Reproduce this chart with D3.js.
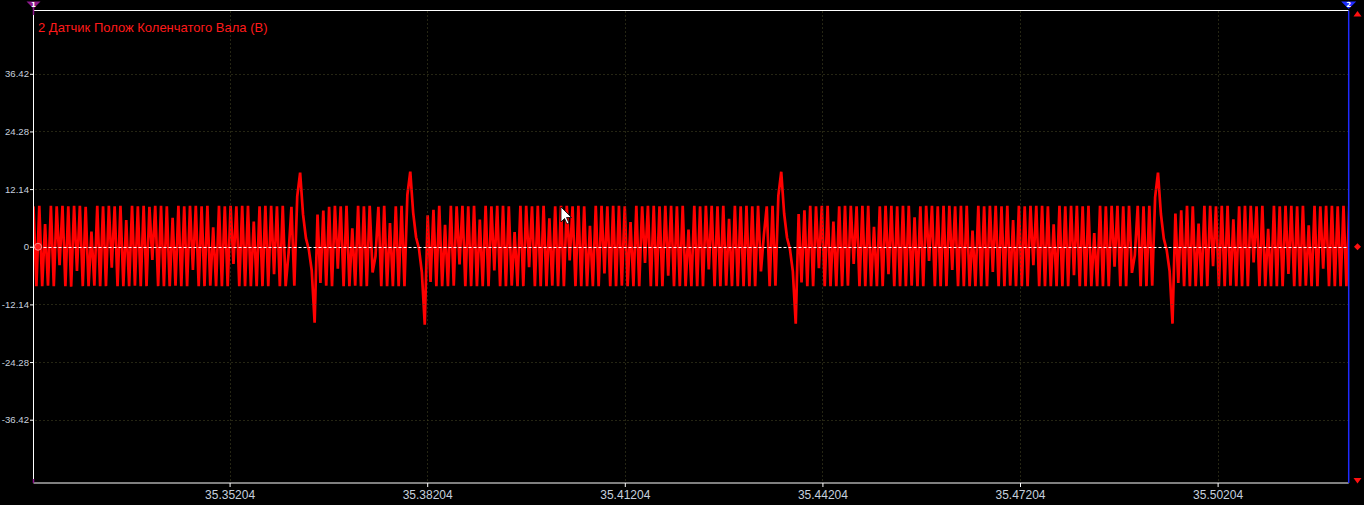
<!DOCTYPE html>
<html><head><meta charset="utf-8">
<script src="https://cdn.jsdelivr.net/npm/d3@7"></script>
<style>html,body{margin:0;padding:0;background:#000;overflow:hidden}</style>
</head><body><svg id="c" width="1364" height="505"></svg>
<script>
// ---- data ----
const chartTitle = "2 Датчик Полож Коленчатого Вала (В)";
const yTickValues = [36.42, 24.28, 12.14, 0, -12.14, -24.28, -36.42];
const yTickLabels = ["36.42", "24.28", "12.14", "0", "-12.14", "-24.28", "-36.42"];
const xTickValues = [35.35204, 35.38204, 35.41204, 35.44204, 35.47204, 35.50204];
const xTickLabels = ["35.35204", "35.38204", "35.41204", "35.44204", "35.47204", "35.50204"];
const xDomain = [35.32227, 35.52194];
const yDomain = [-49.75, 49.75];
const sampleStart = 35.32227;   // time of first sample (s)
const sampleStep = 0.00044;     // sampling interval (s)

// voltage samples (V), in time order
const run1 = [8.5, -8.3, 8.6, -8.3, 4.8, -8.2, 8.6, -8.3, 8.5, -3.9,
  8.6, -8.3, 8.5, -8.4, 8.6, -5.1, 8.6, -8.3, 8.4, -8.3,
  3.2, -8.2, 8.6, -8.3, 8.5, -8.3, 8.6, -4.4, 8.5, -8.3,
  8.6, -8.3, 5.6, -8.3, 8.6, -8.2, 8.5, -8.3, 8.6, -8.3,
  8.4, -2.8, 8.6, -8.3, 8.6, -8.3, 8.5, -8.3, 6.1, -8.2,
  8.6, -8.3, 8.5, -8.3, 8.6, -4.9, 8.6, -8.3, 8.5, -8.3,
  8.6, -8.2, 4.1, -8.3, 8.6, -8.3, 8.5, -8.3, 8.6, -3.6,
  8.5, -8.3, 8.6, -8.3, 8.6, -8.3, 5.3, -8.3, 8.5, -8.3,
  8.6, -8.3, 8.6, -5.8, 8.5, -8.3, 8.6, -8.3, -1.5, 8.4];
const gap1 = [-8.2, 10.6, 15.6, 6.8, 1.8, -0.6, -5.0, -16.0, 6.8];
const run2 = [-7.6, 7.6, -8.2, 8.4, -8.3, 8.6, -4.6, 8.5, -8.3, 8.6,
  -8.3, 3.9, -8.2, 8.6, -8.3, 8.5, -8.3, 8.6, -5.4, -2.0,
  8.4, -8.3, 8.6, -8.3, 5.0, -8.3, 8.5, -8.3, 8.6];
const gap2 = [-8.3, 10.9, 15.8, 7.2, 2.0, -0.4, -5.4, -16.4, 6.6];
const run3 = [-7.4, 7.8, -8.3, 8.6, -8.3, 4.6, -8.3, 8.6, -8.2, 8.5,
  -3.7, 8.6, -8.3, 8.5, -8.3, 8.6, -8.3, 5.7, -8.3, 8.6,
  -8.3, 8.5, -5.0, 8.6, -8.3, 8.6, -8.3, 8.5, -8.2, 3.1,
  -8.3, 8.6, -8.3, 8.6, -4.3, 8.5, -8.3, 8.6, -8.3, 8.6,
  -8.3, 6.0, -8.2, 8.5, -8.3, 8.6, -8.3, 8.6, -2.9, 8.5,
  -8.3, 8.6, -8.3, 8.5, -8.3, 4.4, -8.3, 8.6, -8.3, 8.6,
  -5.6, 8.5, -8.3, 8.6, -8.3, 8.6, -8.2, 8.5, -8.3, 5.2,
  -8.3, 8.6, -8.3, 8.5, -3.4, 8.6, -8.3, 8.6, -8.3, 8.5,
  -8.3, 8.6, -6.1, 8.6, -8.3, 8.5, -8.3, 8.6, -8.3, 3.6,
  -8.3, 8.6, -8.3, 8.5, -8.3, 8.6, -4.8, 8.6, -8.3, 8.5,
  -8.3, 8.6, -8.2, 5.9, -8.3, 8.6, -8.3, 8.5, -8.3, 8.6,
  -8.3, 8.5, -8.3, 8.6, -5.2, 2.4, 8.5, -8.3, 8.6];
const gap3 = [-8.2, 10.7, 15.8, 7.0, 1.9, -0.5, -5.2, -16.2, 6.9];
const run4 = [-7.5, 7.7, -8.3, 8.6, -8.3, 8.5, -4.5, 8.6, -8.3, 8.6,
  -8.3, 5.3, -8.3, 8.5, -8.3, 8.6, -8.2, 8.6, -3.6, 8.5,
  -8.3, 8.6, -8.3, 8.6, -8.3, 4.2, -8.3, 8.5, -8.3, 8.6,
  -5.8, 8.6, -8.3, 8.5, -8.3, 8.6, -8.3, 8.6, -8.2, 6.2,
  -8.3, 8.5, -8.3, 8.6, -3.0, 8.6, -8.3, 8.5, -8.3, 8.6,
  -8.3, 8.6, -4.9, 8.5, -8.3, 8.6, -8.3, 8.6, -8.3, 3.4,
  -8.3, 8.6, -8.3, 8.5, -8.3, 8.6, -5.3, 8.6, -8.3, 8.5,
  -8.3, 8.6, -8.2, 5.6, -8.3, 8.6, -8.3, 8.5, -8.3, 8.6,
  -3.9, 8.6, -8.3, 8.6, -8.3, 8.5, -8.3, 4.7, -8.3, 8.6,
  -8.3, 8.5, -8.3, 8.6, -6.0, 8.6, -8.3, 8.5, -8.3, 8.6,
  -8.3, 2.9, -8.3, 8.6, -8.3, 8.5, -8.3, 8.6, -4.2, 8.6,
  -8.3, 8.5, -8.3, 8.6, -5.5, -1.8, 8.6, -8.3, 8.5, -8.3, 8.6];
const gap4 = [-8.2, 10.4, 15.6, 6.9, 1.7, -0.7, -5.1, -16.2, 7.0];
const run5 = [-7.6, 7.7, -8.3, 8.6, -8.3, 8.5, -8.3, 4.9, -8.3, 8.6,
  -8.3, 8.6, -4.1, 8.5, -8.3, 8.6, -8.3, 8.6, -8.2, 5.8,
  -8.3, 8.5, -8.3, 8.6, -8.3, 8.6, -3.3, 8.5, -8.3, 8.6,
  -8.3, 3.8, -8.3, 8.6, -8.3, 8.5, -8.3, 8.6, -5.7, 8.6,
  -8.3, 8.5, -8.3, 8.6, -8.2, 4.5, -8.3, 8.6, -8.3, 8.5,
  -4.6, 8.6, -8.3, 8.6, -8.3, 8.5, -8.3, 8.6, -8.3, 8.6];

// ---- layout ----
const W = 1364, H = 505;
const L = 33.5, R = 1348.7, T = 10.5, B = 483;
const svg = d3.select("#c");
svg.append("rect").attr("width", W).attr("height", H).attr("fill", "#000");

const x = d3.scaleLinear().domain(xDomain).range([L, R]);
const y = d3.scaleLinear().domain(yDomain).range([B, T]);

const volts = [].concat(run1, gap1, run2, gap2, run3, gap3, run4, gap4, run5);
const samples = volts.map((v, i) => ({t: sampleStart + i * sampleStep, v}));

svg.append("clipPath").attr("id", "clip").append("rect")
  .attr("x", L).attr("y", T).attr("width", R - L).attr("height", B - T);

// waveform
svg.append("path").datum(samples)
  .attr("clip-path", "url(#clip)")
  .attr("fill", "none").attr("stroke", "#ff0000").attr("stroke-width", 2.7)
  .attr("stroke-linejoin", "bevel")
  .attr("d", d3.line().x(d => x(d.t)).y(d => y(d.v)));

// grid (dotted)
const grid = svg.append("g").attr("stroke", "#4a4a26").attr("stroke-width", 1)
  .attr("stroke-dasharray", "1,3");
grid.selectAll(".gy").data(yTickValues.filter(v => v !== 0)).join("line")
  .attr("x1", L + 2).attr("x2", R).attr("y1", d => Math.round(y(d)) + 0.5).attr("y2", d => Math.round(y(d)) + 0.5);
grid.selectAll(".gx").data(xTickValues).join("line")
  .attr("y1", T + 1).attr("y2", B).attr("x1", d => Math.round(x(d)) + 0.5).attr("x2", d => Math.round(x(d)) + 0.5);

// zero line
svg.append("line").attr("x1", L).attr("x2", R)
  .attr("y1", Math.round(y(0)) + 0.5).attr("y2", Math.round(y(0)) + 0.5)
  .attr("stroke", "#ffffff").attr("stroke-width", 1).attr("stroke-dasharray", "3,2");

// axes with d3 axis generators
const labelColor = "#c6d0de";
const yAxis = d3.axisLeft(y).tickValues(yTickValues).tickSize(3.5).tickPadding(1)
  .tickFormat((d, i) => yTickLabels[i]);
const gy = svg.append("g").attr("transform", `translate(${L},0)`).call(yAxis);
gy.select(".domain").remove();
gy.selectAll(".tick line").attr("stroke", "#ffffff");
gy.selectAll(".tick text").attr("fill", labelColor)
  .style("font-family", "'Liberation Sans', Arial, sans-serif").style("font-size", "9.6px");

const xAxis = d3.axisBottom(x).tickValues(xTickValues).tickSize(4).tickPadding(3)
  .tickFormat((d, i) => xTickLabels[i]);
const gx = svg.append("g").attr("transform", `translate(0,${B})`).call(xAxis);
gx.select(".domain").remove();
gx.selectAll(".tick line").attr("stroke", "#ffffff");
gx.selectAll(".tick text").attr("fill", labelColor)
  .style("font-family", "'Liberation Sans', Arial, sans-serif").style("font-size", "12px");

// frame
svg.append("line").attr("x1", L).attr("x2", R).attr("y1", T).attr("y2", T).attr("stroke", "#fff");
svg.append("line").attr("x1", L).attr("x2", R).attr("y1", B).attr("y2", B).attr("stroke", "#fff");
svg.append("line").attr("x1", L).attr("x2", L).attr("y1", T).attr("y2", B).attr("stroke", "#fff");
svg.append("line").attr("x1", R).attr("x2", R).attr("y1", T).attr("y2", B).attr("stroke", "#1f2cff").attr("stroke-width", 1.5);

// cursor markers
svg.append("line").attr("x1", L).attr("x2", L).attr("y1", 8).attr("y2", 15).attr("stroke", "#8e1a8e").attr("stroke-width", 1.5);
svg.append("path").attr("d", `M${L-7},1.5 L${L+7},1.5 L${L},8.5 Z`).attr("fill", "#8e1a8e");
svg.append("text").attr("x", L).attr("y", 7).attr("text-anchor", "middle").attr("fill", "#fff")
  .style("font-family", "'DejaVu Sans', sans-serif").style("font-size", "7px").style("font-weight", "bold").text("1");
svg.append("line").attr("x1", L).attr("x2", L).attr("y1", B - 4).attr("y2", B).attr("stroke", "#8e1a8e").attr("stroke-width", 1.5);

svg.append("path").attr("d", `M${R-7.5},1.5 L${R+7.5},1.5 L${R},9 Z`).attr("fill", "#1f2cff");
svg.append("text").attr("x", R).attr("y", 7).attr("text-anchor", "middle").attr("fill", "#fff")
  .style("font-family", "'DejaVu Sans', sans-serif").style("font-size", "7px").style("font-weight", "bold").text("2");

// right side red markers
svg.append("path").attr("d", `M1353.5,16.5 L1361.5,16.5 L1357.5,11 Z`).attr("fill", "#ff1010");
svg.append("path").attr("d", `M1353.5,478 L1361.5,478 L1357.5,483.5 Z`).attr("fill", "#ff1010");
svg.append("path").attr("d", `M1357.5,${y(0)-3.5} L1361,${y(0)} L1357.5,${y(0)+3.5} L1354,${y(0)} Z`).attr("fill", "#ff1010");

// left zero-marker
svg.append("circle").attr("cx", 38).attr("cy", y(0)).attr("r", 3.5)
  .attr("fill", "#ff1a1a").attr("stroke", "#ff8a8a").attr("stroke-width", 1);

// title
svg.append("text").attr("x", 38).attr("y", 32).attr("fill", "#ff1a1a")
  .style("font-family", "'Liberation Sans', Arial, sans-serif").style("font-size", "13px")
  .text(chartTitle);

// mouse pointer
svg.append("path").attr("transform", "translate(561,207)")
  .attr("d", "M0,0 L0,15 L3.5,11.5 L6,17 L8,16 L5.5,10.5 L10.5,10.5 Z")
  .attr("fill", "#fff").attr("stroke", "#000").attr("stroke-width", 0.8);
</script>
</body></html>
